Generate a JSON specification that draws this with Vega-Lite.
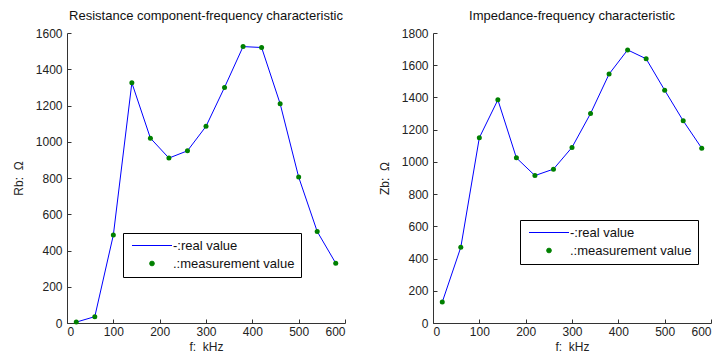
{
  "$schema": "https://vega.github.io/schema/vega-lite/v6.json",
  "padding": {"left": 12, "top": 10, "right": 0, "bottom": 0},
  "config": {
    "view": {"stroke": null},
    "font": "Liberation Sans",
    "axis": {"grid": false, "domainColor": "#333", "tickColor": "#333", "labelColor": "#222", "titleColor": "#222", "labelFont": "Liberation Sans", "titleFont": "Liberation Sans", "labelFontSize": 12, "titleFontSize": 12, "titleFontWeight": "normal", "tickSize": -4, "labelPadding": 9, "format": "d"},
    "title": {"fontSize": 13, "fontWeight": "normal", "font": "Liberation Sans", "color": "#111", "offset": 4},
    "concat": {"spacing": 32}
  },
  "datasets": {
    "rb": [
      {"f": 20, "v": 5}, {"f": 60, "v": 35}, {"f": 100, "v": 485}, {"f": 140, "v": 1325},
      {"f": 180, "v": 1020}, {"f": 220, "v": 910}, {"f": 260, "v": 950}, {"f": 300, "v": 1085},
      {"f": 340, "v": 1300}, {"f": 380, "v": 1525}, {"f": 420, "v": 1520}, {"f": 460, "v": 1210},
      {"f": 500, "v": 805}, {"f": 540, "v": 505}, {"f": 580, "v": 330}
    ],
    "zb": [
      {"f": 20, "v": 130}, {"f": 60, "v": 470}, {"f": 100, "v": 1150}, {"f": 140, "v": 1385},
      {"f": 180, "v": 1025}, {"f": 220, "v": 915}, {"f": 260, "v": 955}, {"f": 300, "v": 1090},
      {"f": 340, "v": 1300}, {"f": 380, "v": 1545}, {"f": 420, "v": 1695}, {"f": 460, "v": 1640},
      {"f": 500, "v": 1445}, {"f": 540, "v": 1255}, {"f": 580, "v": 1085}
    ]
  },
  "hconcat": [
    {
      "width": 278, "height": 290,
      "title": "Resistance component-frequency characteristic",
      "data": {"name": "rb"},
      "encoding": {
        "x": {"field": "f", "type": "quantitative", "scale": {"domain": [0, 600], "nice": false}, "axis": {"values": [0,100,200,300,400,500,600], "title": "f:\u00a0 kHz", "titlePadding": 4, "labelPadding": 7}},
        "y": {"field": "v", "type": "quantitative", "scale": {"domain": [0, 1600], "nice": false}, "axis": {"values": [0,200,400,600,800,1000,1200,1400,1600], "title": "Rb:\u00a0 Ω", "titlePadding": 10}}
      },
      "layer": [
        {"mark": {"type": "line", "strokeWidth": 1}, "encoding": {"color": {"datum": "-:real value", "type": "nominal", "scale": {"domain": ["-:real value", ".:measurement value"], "range": ["#0000ff", "#008000"]},
          "legend": {"title": null, "orient": "none", "legendX": 56, "legendY": 200, "strokeColor": "#000", "padding": 6, "labelFontSize": 13, "labelColor": "#111", "labelFont": "Liberation Sans", "symbolSize": 1600, "rowPadding": 4, "labelOffset": 31,
            "encode": {"symbols": {"update": {"x": {"value": 23}, "shape": {"signal": "datum.value === '-:real value' ? 'stroke' : 'circle'"}, "size": {"signal": "datum.value === '-:real value' ? 1600 : 22"}, "fill": {"signal": "datum.value === '-:real value' ? 'transparent' : '#008000'"}, "stroke": {"signal": "datum.value === '-:real value' ? '#0000ff' : '#008000'"}, "strokeWidth": {"value": 1}}}}}}}},
        {"mark": {"type": "point", "filled": true, "size": 25, "opacity": 1}, "encoding": {"color": {"datum": ".:measurement value", "type": "nominal"}}}
      ]
    },
    {
      "width": 278, "height": 290,
      "title": "Impedance-frequency characteristic",
      "data": {"name": "zb"},
      "encoding": {
        "x": {"field": "f", "type": "quantitative", "scale": {"domain": [0, 600], "nice": false}, "axis": {"values": [0,100,200,300,400,500,600], "title": "f:\u00a0 kHz", "titlePadding": 4, "labelPadding": 7}},
        "y": {"field": "v", "type": "quantitative", "scale": {"domain": [0, 1800], "nice": false}, "axis": {"values": [0,200,400,600,800,1000,1200,1400,1600,1800], "title": "Zb:\u00a0 Ω", "titlePadding": 10}}
      },
      "layer": [
        {"mark": {"type": "line", "strokeWidth": 1}, "encoding": {"color": {"datum": "-:real value", "type": "nominal", "scale": {"domain": ["-:real value", ".:measurement value"], "range": ["#0000ff", "#008000"]},
          "legend": {"title": null, "orient": "none", "legendX": 87, "legendY": 187, "strokeColor": "#000", "padding": 6, "labelFontSize": 13, "labelColor": "#111", "labelFont": "Liberation Sans", "symbolSize": 1600, "rowPadding": 4, "labelOffset": 31,
            "encode": {"symbols": {"update": {"x": {"value": 23}, "shape": {"signal": "datum.value === '-:real value' ? 'stroke' : 'circle'"}, "size": {"signal": "datum.value === '-:real value' ? 1600 : 22"}, "fill": {"signal": "datum.value === '-:real value' ? 'transparent' : '#008000'"}, "stroke": {"signal": "datum.value === '-:real value' ? '#0000ff' : '#008000'"}, "strokeWidth": {"value": 1}}}}}}}},
        {"mark": {"type": "point", "filled": true, "size": 25, "opacity": 1}, "encoding": {"color": {"datum": ".:measurement value", "type": "nominal"}}}
      ]
    }
  ],
  "resolve": {"scale": {"color": "independent"}, "legend": {"color": "independent"}}
}
